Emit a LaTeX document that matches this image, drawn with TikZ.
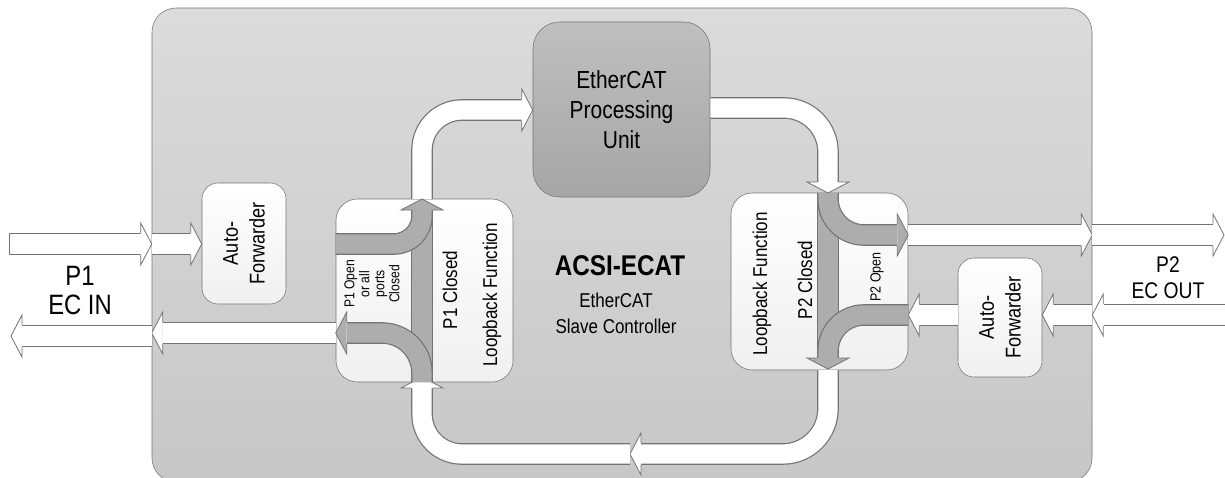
\documentclass[tikz,border=0pt]{standalone}
\usepackage{fontspec}
\setmainfont[FakeStretch=0.85]{Liberation Sans}
\tikzstyle{board}=[draw=black!55, rounded corners=18pt, top color=black!14, bottom color=black!22, inner sep=0]
\tikzstyle{blk}=[draw=black!55, rounded corners=12pt, top color=white, bottom color=black!6, inner sep=0]
\tikzstyle{lbk}=[draw=black!55, rounded corners=16pt, top color=white, bottom color=black!6, inner sep=0]
\tikzstyle{pu}=[draw=black!55, rounded corners=20pt, top color=black!25, bottom color=black!35, inner sep=0, align=center, font=\fontsize{18.5}{22.5}\selectfont]
\tikzstyle{wpipe}=[draw=white, line width=14.4pt, preaction={draw=black!55, line width=16.2pt}]
\tikzstyle{gpipe}=[draw=black!32, line width=14.4pt, preaction={draw=black!55, line width=16.2pt}]
\tikzstyle{lbl}=[align=center, inner sep=0]
\tikzset{pics/head/.style={code={
  \filldraw[fill=#1, draw=black!55, line width=.6pt] (-11,-10.8) -- (-11,-21) -- (0,0) -- (-11,21) -- (-11,10.8);}}}
\begin{document}
\begin{tikzpicture}[x=0.75pt, y=-0.75pt]
\useasboundingbox (0,0) rectangle (1225,478);
% boxes
\node[board, minimum width=705pt, minimum height=355.5pt] (board) at (622,245) {};
\node[blk, minimum width=63pt, minimum height=90.75pt] (af1) at (244,243.5) {};
\node[blk, minimum width=63pt, minimum height=89.25pt] (af2) at (1000,317.5) {};
\node[lbk, minimum width=132.75pt, minimum height=137.25pt] (lb1) at (424.5,290.5) {};
\node[lbk, minimum width=132.75pt, minimum height=132.75pt] (lb2) at (819.5,281.5) {};
\node[pu, minimum width=132.75pt, minimum height=131.25pt] (pu) at (621.5,109.5) {EtherCAT\\Processing\\Unit};
% P1 side
\draw[wpipe] (9,244) -- (141,244);
\draw[black!55, line width=.6pt] (9,233.2) -- (9,254.8);
\pic at (board.west |- 0,244) {head=white};
\draw[wpipe] (board.west |- 0,244) -- (191,244);
\pic at (af1.west |- 0,244) {head=white};
\draw[wpipe] (lb1.west |- 0,333) -- (163,333);
\pic[rotate=180] at (board.west |- 0,333) {head=white};
\draw[wpipe] (board.west |- 0,336) -- (22,336);
\pic[rotate=180] at (11,336) {head=white};
% up to the processing unit and back down
\draw[wpipe, rounded corners=30pt] (422,199) -- (422,110) -- (522,110);
\pic at (pu.west |- 0,110) {head=white};
\draw[wpipe, rounded corners=33pt] (pu.east |- 0,108) -- (828,108) -- (828,182);
\pic[rotate=-90] at (828,193) {head=white};
% P2 side
\draw[wpipe] (lb2.east |- 0,235) -- (1082,235);
\pic at (board.east |- 0,235) {head=white};
\draw[wpipe] (board.east |- 0,235) -- (1213,235);
\pic at (1224,235) {head=white};
\draw[wpipe] (1226,315) -- (1104,315);
\pic[rotate=180] at (board.east |- 0,315) {head=white};
\draw[wpipe] (board.east |- 0,315) -- (1053,315);
\pic[rotate=180] at (af2.east |- 0,315) {head=white};
\draw[wpipe] (af2.west |- 0,315) -- (919,315);
\pic[rotate=180] at (lb2.east |- 0,315) {head=white};
% bottom return loop
\draw[wpipe, rounded corners=34pt] (828,370) -- (828,454) -- (641,454);
\pic[rotate=180] at (630,454) {head=white};
\draw[wpipe, rounded corners=30pt] (630,454) -- (422,454) -- (422,388);
\pic[rotate=90] at (422,377) {head=white};
% loopback paths, port 1
\draw[gpipe] (422,382) -- (422,210);
\draw[gpipe, rounded corners=21pt] (lb1.west |- 0,244) -- (422,244) -- (422,210);
\pic[rotate=90] at (422,199) {head=black!32};
\draw[gpipe, rounded corners=30pt] (422,382) -- (422,333) -- (347,333);
\pic[rotate=180] at (lb1.west |- 0,333) {head=black!32};
% loopback paths, port 2
\draw[gpipe] (828,193) -- (828,358);
\draw[gpipe, rounded corners=27pt] (828,193) -- (828,235) -- (897,235);
\pic at (lb2.east |- 0,235) {head=black!32};
\draw[gpipe, rounded corners=27pt] (lb2.east |- 0,315) -- (828,315) -- (828,358);
\pic[rotate=-90] at (828,369) {head=black!32};
% labels
\node[lbl, font=\fontsize{21}{21.75}\selectfont] (p1) at (80,291) {P1\\EC IN};
\node[lbl, font=\fontsize{17}{19.5}\selectfont] (p2) at (1168,278) {P2\\EC OUT};
\node[lbl, font=\fontsize{21.4}{24}\selectfont\bfseries] (chip) at (620,266) {ACSI-ECAT};
\node[lbl, font=\fontsize{15}{19.5}\selectfont] (chipsub) at (616,313) {EtherCAT\\Slave Controller};
\node[lbl, rotate=90, font=\fontsize{16}{20}\selectfont] (af1t) at (af1) {Auto-\\Forwarder};
\node[lbl, rotate=90, font=\fontsize{16}{20}\selectfont] (af2t) at (af2) {Auto-\\Forwarder};
\node[lbl, rotate=90, font=\fontsize{10.7}{11.25}\selectfont] (p1open) at (372,284) {P1 Open\\or all\\ports\\Closed};
\node[lbl, rotate=90, font=\fontsize{15}{18}\selectfont] (p1closed) at (450,290) {P1 Closed};
\node[lbl, rotate=90, font=\fontsize{15}{18}\selectfont] (lb1t) at (492,295) {Loopback Function};
\node[lbl, rotate=90, font=\fontsize{15}{18}\selectfont] (lb2t) at (762,284) {Loopback Function};
\node[lbl, rotate=90, font=\fontsize{15}{18}\selectfont] (p2closed) at (805,280) {P2 Closed};
\node[lbl, rotate=90, font=\fontsize{11}{13}\selectfont] (p2open) at (877,277) {P2 Open};
\end{tikzpicture}
\end{document}
